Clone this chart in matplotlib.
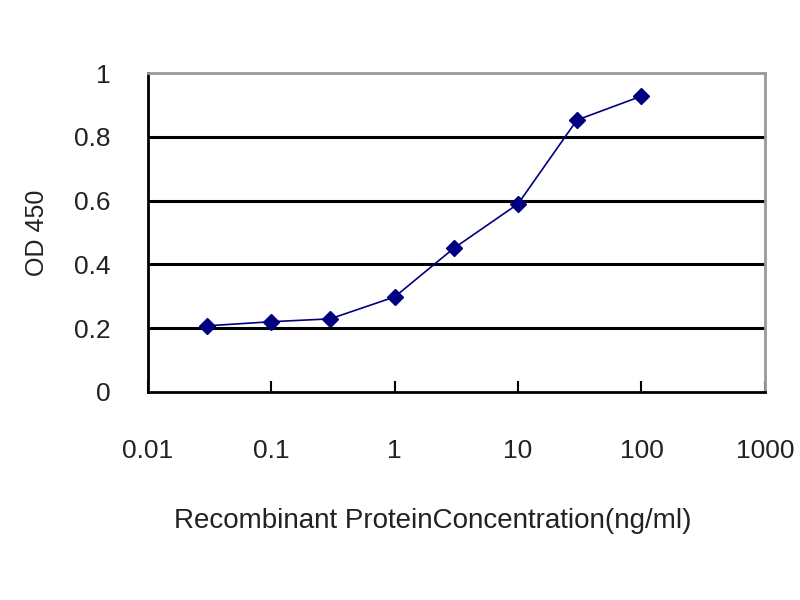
import matplotlib
matplotlib.use("Agg")
import matplotlib.pyplot as plt

# Recombinant protein concentration (ng/ml) and OD 450 readings
conc = [0.03, 0.1, 0.3, 1, 3, 10, 30, 100]
od450 = [0.207, 0.22, 0.229, 0.298, 0.45, 0.59, 0.853, 0.928]

x_ticks = [0.01, 0.1, 1, 10, 100, 1000]
x_tick_labels = ["0.01", "0.1", "1", "10", "100", "1000"]
y_ticks = [0, 0.2, 0.4, 0.6, 0.8, 1]
y_tick_labels = ["0", "0.2", "0.4", "0.6", "0.8", "1"]

plt.rcParams["font.family"] = ["Liberation Sans", "DejaVu Sans"]

fig = plt.figure(figsize=(8, 6), dpi=100)
ax = fig.add_axes([0.185, 0.347, 0.771, 0.531])

ax.set_xscale("log")
ax.set_xlim(0.01, 1000)
ax.set_ylim(0, 1)

# horizontal gridlines (Excel style)
for yv in y_ticks[1:-1]:
    ax.axhline(yv, color="black", linewidth=2.2, zorder=1)

ax.plot(conc, od450, color="#000080", linewidth=1.2, marker="D",
        markersize=8, markerfacecolor="#000080", markeredgecolor="#000080",
        zorder=3)

ax.set_xticks(x_ticks)
ax.set_xticklabels(x_tick_labels)
ax.xaxis.set_minor_locator(matplotlib.ticker.NullLocator())
ax.set_yticks(y_ticks)
ax.set_yticklabels(y_tick_labels)

ax.tick_params(axis="x", direction="in", length=8, width=1.5, labelsize=19,
               pad=34, color="black", labelcolor="#222222")
ax.tick_params(axis="y", length=0, labelsize=19, pad=27, labelcolor="#222222")

for side in ["top", "right"]:
    ax.spines[side].set_color("#999999")
    ax.spines[side].set_linewidth(2)
for side in ["left", "bottom"]:
    ax.spines[side].set_color("black")
    ax.spines[side].set_linewidth(2)

ax.set_xlabel("Recombinant ProteinConcentration(ng/ml)", fontsize=20,
              color="#222222")
ax.xaxis.set_label_coords(0.462, -0.365)
ax.set_ylabel("OD 450", fontsize=18, labelpad=18, color="#222222")

fig.savefig("out.png", dpi=100)
